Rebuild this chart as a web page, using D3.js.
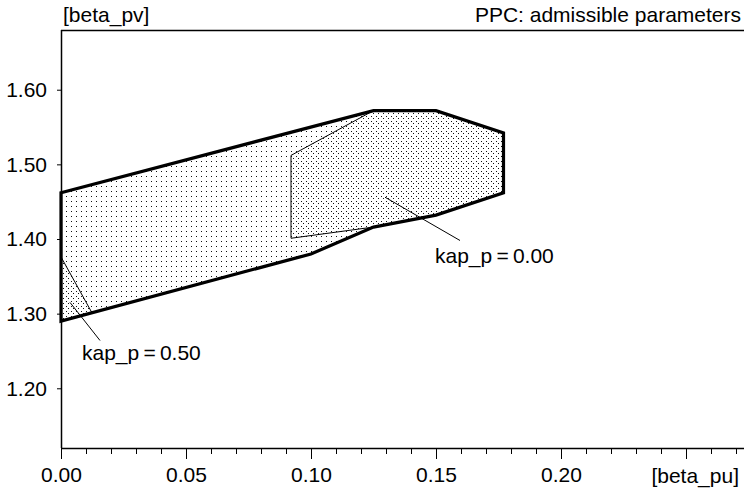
<!DOCTYPE html>
<html>
<head>
<meta charset="utf-8">
<script src="https://cdn.jsdelivr.net/npm/d3@7/dist/d3.min.js"></script>
<style>
  html, body { margin: 0; padding: 0; background: #fff; }
  svg { display: block; }
  text { font-family: "Liberation Sans", Arial, Helvetica, sans-serif; fill: #000; }
</style>
</head>
<body>
<svg id="chart" width="744" height="490"></svg>
<script>
// Admissible (beta_pu, beta_pv) parameter regions
const outerRegion = [
  [0.000, 1.462], [0.125, 1.572], [0.150, 1.572], [0.177, 1.542],
  [0.177, 1.462], [0.150, 1.432], [0.125, 1.416], [0.100, 1.380],
  [0.000, 1.290]
];
const regionKap000 = [
  [0.092, 1.512], [0.125, 1.572], [0.150, 1.572], [0.177, 1.542],
  [0.177, 1.462], [0.150, 1.432], [0.125, 1.416], [0.092, 1.401]
];
const regionKap050 = [
  [0.000, 1.376], [0.0124, 1.301], [0.000, 1.290]
];

// Leader lines and their labels
const annotations = [
  { text: "kap_p\u2009=\u20090.00", from: [0.1296, 1.456], to: [0.1596, 1.398], at: [0.1496, 1.368] },
  { text: "kap_p\u2009=\u20090.50", from: [0.0036, 1.315], to: [0.0156, 1.264], at: [0.0084, 1.2376] }
];

const xMajorTicks = [0.00, 0.05, 0.10, 0.15, 0.20, 0.25];
const xMinorTicks = d3.range(0, 28).map(i => i / 100);
const yTicks = [1.20, 1.30, 1.40, 1.50, 1.60];
const xAxisTitle = "[beta_pu]";
const yAxisTitle = "[beta_pv]";
const chartTitle = "PPC: admissible parameters";

const svg = d3.select("#chart");
const W = 744;
const plotLeft = 61, plotTop = 30, plotBottom = 448;
const fontSize = 21;

const x = d3.scaleLinear().domain([0, 0.2732]).range([plotLeft, W]);
const y = d3.scaleLinear().domain([1.12, 1.68]).range([plotBottom, plotTop]);

// Dot fill patterns
const defs = svg.append("defs");
const pSparse = defs.append("pattern").attr("id", "dotsSparse")
  .attr("patternUnits", "userSpaceOnUse").attr("width", 5).attr("height", 5);
pSparse.append("rect").attr("x", 1).attr("y", 1).attr("width", 1).attr("height", 1).attr("fill", "#111");
const pDense = defs.append("pattern").attr("id", "dotsDense")
  .attr("patternUnits", "userSpaceOnUse").attr("width", 5).attr("height", 5);
pDense.append("rect").attr("x", 3).attr("y", 3).attr("width", 1).attr("height", 1).attr("fill", "#111");

const line = d3.line().x(d => x(d[0])).y(d => y(d[1]));
const poly = pts => line(pts) + "Z";

// Regions
svg.append("path").attr("d", poly(outerRegion)).attr("fill", "url(#dotsSparse)").attr("stroke", "none");
svg.append("path").attr("d", poly(regionKap000)).attr("fill", "url(#dotsDense)")
  .attr("stroke", "#000").attr("stroke-width", 1);
svg.append("path").attr("d", poly(regionKap050)).attr("fill", "url(#dotsDense)")
  .attr("stroke", "#000").attr("stroke-width", 1);
svg.append("path").attr("d", poly(outerRegion)).attr("fill", "none")
  .attr("stroke", "#000").attr("stroke-width", 3.2).attr("stroke-linejoin", "miter");

// Leaders and labels
annotations.forEach(a => {
  svg.append("line")
    .attr("x1", x(a.from[0])).attr("y1", y(a.from[1]))
    .attr("x2", x(a.to[0])).attr("y2", y(a.to[1]))
    .attr("stroke", "#000").attr("stroke-width", 1);
  svg.append("text").attr("x", x(a.at[0])).attr("y", y(a.at[1]))
    .attr("font-size", fontSize).text(a.text);
});

// Frame: top line
svg.append("line").attr("x1", plotLeft).attr("x2", W).attr("y1", plotTop + 0.5).attr("y2", plotTop + 0.5)
  .attr("stroke", "#000").attr("stroke-width", 1.5);

// Y axis
const yAxis = svg.append("g").attr("transform", `translate(${plotLeft},0)`)
  .call(d3.axisLeft(y).tickValues(yTicks).tickSize(4).tickPadding(10).tickFormat(d3.format(".2f")));
yAxis.select(".domain").attr("d", `M0.5,${plotTop}V${plotBottom}`).attr("stroke-width", 1.5);
yAxis.selectAll("text").attr("font-size", fontSize).attr("font-family", null);

// X axis: minor ticks
svg.append("g").attr("transform", `translate(0,${plotBottom})`)
  .call(d3.axisBottom(x).tickValues(xMinorTicks).tickSize(6).tickFormat(""))
  .call(g => g.select(".domain").remove());
// X axis: major ticks
const xAxis = svg.append("g").attr("transform", `translate(0,${plotBottom})`)
  .call(d3.axisBottom(x).tickValues(xMajorTicks).tickSize(11).tickPadding(8)
    .tickFormat(d => d < 0.24 ? d3.format(".2f")(d) : ""));
xAxis.select(".domain").attr("d", `M${plotLeft},0.5H${W}`).attr("stroke-width", 1.5);
xAxis.selectAll("text").attr("font-size", fontSize).attr("font-family", null);

// Titles
svg.append("text").attr("x", 739).attr("y", 483).attr("text-anchor", "end")
  .attr("font-size", fontSize).text(xAxisTitle);
svg.append("text").attr("x", 63).attr("y", 22)
  .attr("font-size", fontSize).text(yAxisTitle);
svg.append("text").attr("x", 741).attr("y", 22).attr("text-anchor", "end")
  .attr("font-size", fontSize).text(chartTitle);
</script>
</body>
</html>
